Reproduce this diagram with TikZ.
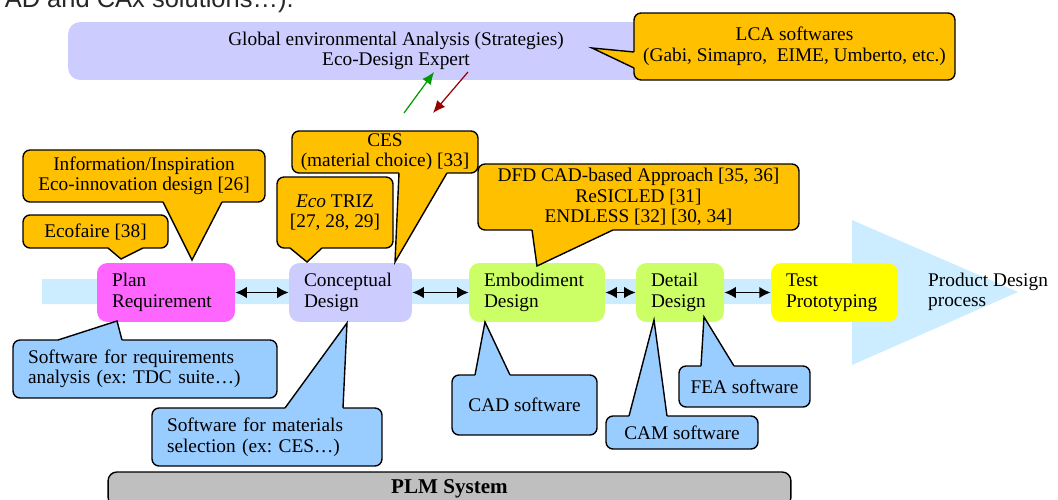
\documentclass[tikz,border=0pt]{standalone}
\usepackage{fontspec}
\setmainfont{Liberation Serif}
\newfontfamily\noteFont{Liberation Sans}
\usepackage{xcolor}
\usepackage{tikz}
\usetikzlibrary{shapes,arrows.meta,calc}

\definecolor{calloutOrange}{HTML}{FFC000}
\definecolor{calloutBlue}{HTML}{99CCFF}
\definecolor{strategyLilac}{HTML}{CCCCFF}
\definecolor{planPink}{HTML}{FF66FF}
\definecolor{designGreen}{HTML}{CCFF66}
\definecolor{testYellow}{HTML}{FFFF00}
\definecolor{flowBlue}{HTML}{CCECFF}
\definecolor{plmGray}{HTML}{BFBFBF}
\definecolor{upGreen}{HTML}{009900}
\definecolor{downRed}{HTML}{990000}

\frenchspacing
\begin{document}
\begin{tikzpicture}[x=0.02cm, y=-0.02cm,
        font=\fontsize{11}{11.7}\selectfont,
        stage/.style={fill=#1, rounded corners=6pt, minimum height=1.18cm,
                inner xsep=0.3cm, inner ysep=0pt, align=left},
        bubble/.style={fill=#1, draw, line width=0.8pt, rounded corners=4pt,
                inner sep=0pt, outer sep=0pt, align=center},
        tailline/.style={line width=0.8pt},
        >={Latex[length=6.5pt,width=6.5pt]}]
        \useasboundingbox (0,0) rectangle (1058,500);

        % Function to draw the tail of a callout
        \newcommand{\drawTail}[4]{
            % #1 colour, #2 first base point, #3 tip, #4 second base point
            \fill[#1] ($#2!2pt!90:#4$) -- #2 -- #3 -- #4 -- ($#4!2pt!-90:#2$) -- cycle;
            \draw[tailline] #2 -- #3 -- #4;
        }

        % Cut text of the page above
        \node[font=\noteFont\fontsize{14.5}{16}\selectfont, text=black!85,
                anchor=base east, inner sep=0pt] (pagetext) at (294,7.5) {AD and CAx solutions…).};

        % Strategy level
        \node[  fill=strategyLilac,
                rounded corners=7pt,
                minimum width=13.12cm,
                minimum height=1.16cm,
                align=center ] (global) at (396,51) {Global environmental Analysis (Strategies)\\Eco-Design Expert};

        \node[bubble=calloutOrange, minimum width=6.42cm, minimum height=1.34cm] (lca) at (794.5,46.5)
                {LCA softwares\\(Gabi, Simapro,~ EIME, Umberto, etc.)};
        \drawTail{calloutOrange}{(lca.west |- 0,52)}{(592,48)}{(lca.west |- 0,68)}

        \coordinate (greentail) at (404,113);
        \coordinate (greenhead) at (434,72);
        \coordinate (redtail) at (468,72);
        \coordinate (redhead) at (433,113);
        \draw[->, upGreen, line width=0.7pt, >={Latex[length=7pt,width=6pt]}] (greentail) -- (greenhead);
        \draw[->, downRed, line width=0.7pt, >={Latex[length=7pt,width=6pt]}] (redtail) -- (redhead);

        % Product design flow
        \fill[flowBlue] (42,279) -- (852,279) -- (852,220) -- (1018,292) -- (852,365) -- (852,304) -- (42,304) -- cycle;
        \node[align=left, anchor=west] (process) at (922,292) {Product Design\\process};

        \node[stage=planPink, text width=2.16cm] (plan) at (166,292.5) {Plan\\Requirement};
        \node[stage=strategyLilac, text width=1.86cm] (concept) at (350.5,292.5) {Conceptual\\Design};
        \node[stage=designGreen, text width=2.12cm] (embodiment) at (537,292.5) {Embodiment\\Design};
        \node[stage=designGreen, text width=1.16cm] (detail) at (680,292.5) {Detail\\Design};
        \node[stage=testYellow, text width=1.94cm] (test) at (834.5,292.5) {Test\\Prototyping};

        \draw[<->, line width=0.9pt] (plan) -- (concept);
        \draw[<->, line width=0.9pt] (concept) -- (embodiment);
        \draw[<->, line width=0.9pt] (embodiment) -- (detail);
        \draw[<->, line width=0.9pt] (detail) -- (test);

        % Eco-design tools
        \node[bubble=calloutOrange, minimum width=4.84cm, minimum height=1.04cm] (inspiration) at (144,176)
                {Information/Inspiration\\Eco-innovation design [26]};
        \drawTail{calloutOrange}{(163,0 |- inspiration.south)}{(192,260)}{(222,0 |- inspiration.south)}

        \node[bubble=calloutOrange, minimum width=2.9cm, minimum height=0.66cm] (ecofaire) at (95.5,231.5)
                {Ecofaire [38]};
        \drawTail{calloutOrange}{(108,0 |- ecofaire.south)}{(121,259)}{(143,0 |- ecofaire.south)}

        \node[bubble=calloutOrange, minimum width=2.32cm, minimum height=1.42cm] (triz) at (335,212.5)
                {\textit{Eco} TRIZ\\{}[27, 28, 29]};
        \drawTail{calloutOrange}{(290,0 |- triz.south)}{(307,262)}{(322,0 |- triz.south)}

        \node[bubble=calloutOrange, minimum width=3.72cm, minimum height=0.84cm] (ces) at (385,152)
                {CES\\(material choice) [33]};
        \drawTail{calloutOrange}{(399,0 |- ces.south)}{(395,262)}{(447,0 |- ces.south)}

        \node[bubble=calloutOrange, minimum width=6.42cm, minimum height=1.32cm] (dfd) at (638.5,197)
                {DFD CAD-based Approach [35, 36]\\ReSICLED [31]\\ENDLESS [32] [30, 34]};
        \drawTail{calloutOrange}{(532,0 |- dfd.south)}{(537,266)}{(613,0 |- dfd.south)}

        % Software tools
        \node[bubble=calloutBlue, text width=4.68cm, inner xsep=0.3cm, minimum height=1.16cm, align=left] (reqsoft) at (145,369)
                {Software for requirements\\analysis (ex: TDC suite…)};
        \drawTail{calloutBlue}{(122,0 |- reqsoft.north)}{(117,321)}{(58,0 |- reqsoft.north)}

        \node[bubble=calloutBlue, text width=4.0cm, inner xsep=0.3cm, minimum height=1.16cm, align=left] (matsoft) at (267,437)
                {Software for materials\\selection (ex: CES…)};
        \drawTail{calloutBlue}{(343,0 |- matsoft.north)}{(347,323)}{(285,0 |- matsoft.north)}

        \node[bubble=calloutBlue, minimum width=2.9cm, minimum height=1.2cm] (cadsoft) at (524.5,405) {CAD software};
        \drawTail{calloutBlue}{(510,0 |- cadsoft.north)}{(485,322)}{(475,0 |- cadsoft.north)}

        \node[bubble=calloutBlue, minimum width=3.04cm, minimum height=0.66cm] (camsoft) at (682,432.5) {CAM software};
        \drawTail{calloutBlue}{(667,0 |- camsoft.north)}{(654,320)}{(629,0 |- camsoft.north)}

        \node[bubble=calloutBlue, minimum width=2.62cm, minimum height=0.82cm] (feasoft) at (744.5,386.5) {FEA software};
        \drawTail{calloutBlue}{(734,0 |- feasoft.north)}{(704,317)}{(701,0 |- feasoft.north)}

        % PLM base
        \node[  fill=plmGray,
                draw,
                line width=0.8pt,
                rounded corners=5pt,
                minimum width=13.66cm,
                minimum height=0.68cm,
                font=\fontsize{12}{14}\selectfont\bfseries ] (plm) at (449.5,489) {PLM System};

    \end{tikzpicture}
\end{document}
